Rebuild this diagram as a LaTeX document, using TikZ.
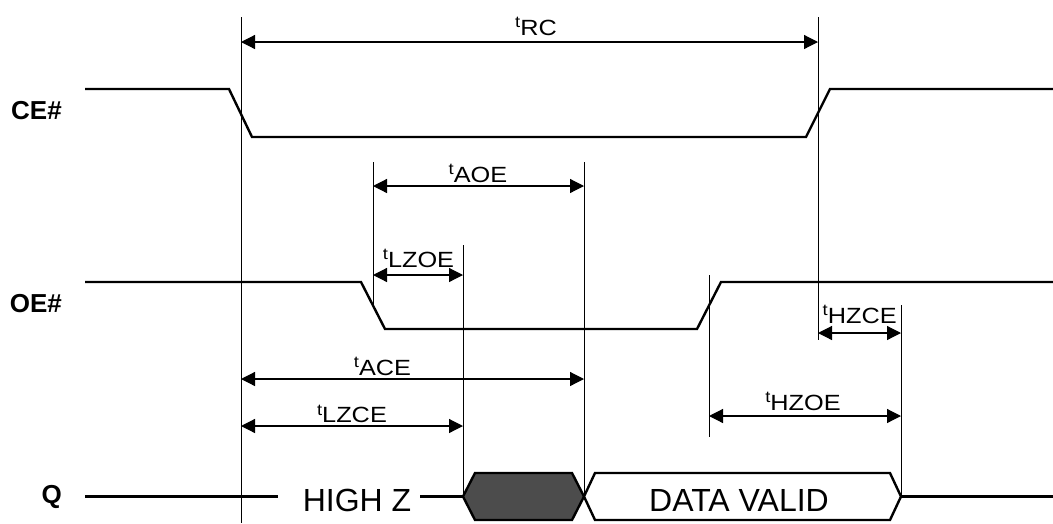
\documentclass[tikz,border=0pt]{standalone}
\usepackage{fontspec}
\usepackage{graphicx}
\setmainfont{Liberation Sans}
\usetikzlibrary{arrows.meta}
\newcommand{\tlab}[1]{\scalebox{1.15}[1]{\raisebox{7.5pt}{\fontsize{16}{16}\selectfont t}\fontsize{22}{24}\selectfont #1}}
\tikzset{
  sig/.style={line width=2.4pt, line join=miter},
  guide/.style={line width=1pt},
  dim/.style={line width=1.2pt, {Triangle[length=14pt,width=14pt]}-{Triangle[length=14pt,width=14pt]}},
  tlabel/.style={inner sep=0pt, anchor=base},
  signame/.style={inner sep=0pt, anchor=east, font=\fontsize{26}{28}\selectfont\bfseries},
  bigtext/.style={inner sep=0pt, anchor=base, font=\fontsize{32}{34}\selectfont},
}
\begin{document}
\begin{tikzpicture}[x=1pt,y=-1pt]
\useasboundingbox (0,0) rectangle (1053,523);

% guide line coordinates
\coordinate (A1) at (241,17);  \coordinate (A2) at (241,523);
\coordinate (B1) at (818,17);  \coordinate (B2) at (818,340);
\coordinate (C1) at (373,162); \coordinate (C2) at (373,305);
\coordinate (D1) at (463,245); \coordinate (D2) at (463,496.5);
\coordinate (E1) at (584,162); \coordinate (E2) at (584,496.5);
\coordinate (F1) at (709,275); \coordinate (F2) at (709,437);
\coordinate (G1) at (901,305); \coordinate (G2) at (901,496.5);

\draw[guide] (A1) -- (A2);
\draw[guide] (B1) -- (B2);
\draw[guide] (C1) -- (C2);
\draw[guide] (D1) -- (D2);
\draw[guide] (E1) -- (E2);
\draw[guide] (F1) -- (F2);
\draw[guide] (G1) -- (G2);

% signal names
\node[signame] (ce) at (62,111) {CE\#};
\node[signame] (oe) at (62,304) {OE\#};
\node[signame] (q) at (62,497) {Q};

% CE#
\draw[sig] (85,89) -- (229,89) -- (252,137) -- (806,137) -- (830,89) -- (1053,89);
% OE#
\draw[sig] (85,282) -- (361,282) -- (385,329) -- (697,329) -- (721,282) -- (1053,282);

% Q
\node[bigtext] (hz) at (357,511.5) {HIGH Z};
\coordinate (q0) at (85,496.5);
\coordinate (q1) at (278,496.5);
\coordinate (q2) at (420,496.5);
\draw[sig] (q0) -- (q1);
\draw[sig] (q2) -- (D2);
\draw[sig, fill=black!70] (D2) -- (475,473) -- (572,473) -- (E2) -- (572,520) -- (475,520) -- cycle;
\draw[sig, fill=white] (E2) -- (595,473) -- (890,473) -- (G2) -- (890,520) -- (595,520) -- cycle;
\node[bigtext] (dv) at (739,511.5) {DATA VALID};
\coordinate (q3) at (1053,496.5);
\draw[sig] (G2) -- (q3);

% dimension arrows
\coordinate (rcL) at (241,42);  \coordinate (rcR) at (818,42);
\draw[dim] (rcL) -- (rcR);
\node[tlabel] (trc) at (536,35) {\tlab{RC}};

\coordinate (aoeL) at (373,186); \coordinate (aoeR) at (584,186);
\draw[dim] (aoeL) -- (aoeR);
\node[tlabel] (taoe) at (478,182.3) {\tlab{AOE}};

\coordinate (lzoeL) at (373,275); \coordinate (lzoeR) at (463,275);
\draw[dim] (lzoeL) -- (lzoeR);
\node[tlabel] (tlzoe) at (418.5,267) {\tlab{LZOE}};

\coordinate (aceL) at (241,379); \coordinate (aceR) at (584,379);
\draw[dim] (aceL) -- (aceR);
\node[tlabel] (tace) at (382.5,375) {\tlab{ACE}};

\coordinate (lzceL) at (241,426); \coordinate (lzceR) at (463,426);
\draw[dim] (lzceL) -- (lzceR);
\node[tlabel] (tlzce) at (352,422.7) {\tlab{LZCE}};

\coordinate (hzceL) at (818,333); \coordinate (hzceR) at (901,333);
\draw[dim] (hzceL) -- (hzceR);
\node[tlabel] (thzce) at (859.7,323.3) {\tlab{HZCE}};

\coordinate (hzoeL) at (709,416); \coordinate (hzoeR) at (901,416);
\draw[dim] (hzoeL) -- (hzoeR);
\node[tlabel] (thzoe) at (803,410) {\tlab{HZOE}};
\end{tikzpicture}
\end{document}
